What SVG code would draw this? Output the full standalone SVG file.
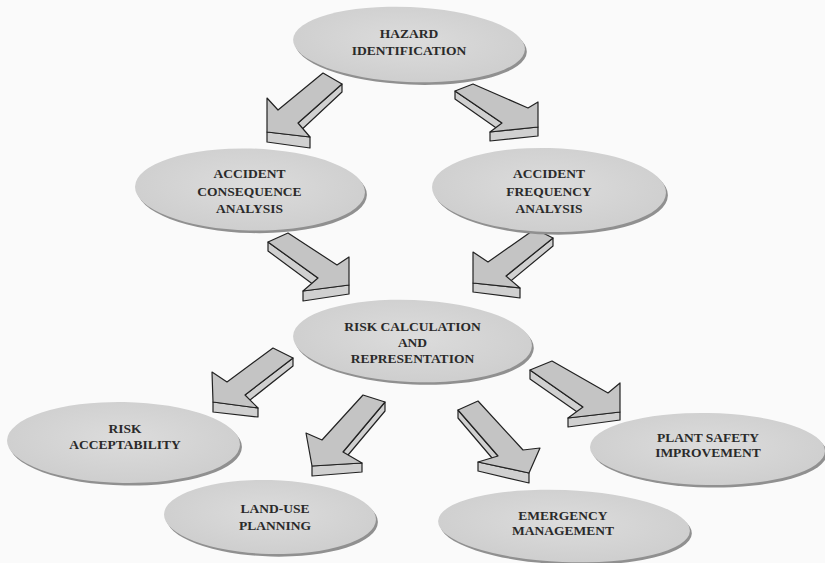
<svg xmlns="http://www.w3.org/2000/svg" width="825" height="563" viewBox="0 0 825 563">
<defs>
<radialGradient id="eg" cx="50%" cy="45%" r="60%">
<stop offset="0" stop-color="#dcdcdc"/>
<stop offset="1" stop-color="#cdcdcd"/>
</radialGradient>
</defs>
<style>
.sh{fill:#909090}
.el{fill:url(#eg)}
.lbl{font-family:"Liberation Serif","Times New Roman",serif;font-weight:bold;font-size:13.5px;fill:#2a2a2a;text-anchor:middle}
.top{fill:#c4c4c4;stroke:#222;stroke-width:1.2;stroke-linejoin:round}
.side{fill:#d0d0d0;stroke:#222;stroke-width:1.2;stroke-linejoin:round}
</style>
<rect width="825" height="563" fill="#fafafa"/>

<g id="connectors">
<g id="a1"><polygon class="side" points="342,84 298,123 298,133 342,92"/><polygon class="side" points="310,137 267,132 267,142 310,148"/><polygon class="top" points="323,73 342,84 298,123 310,137 267,132 267,98 278,110"/></g>
<g id="a2"><polygon class="side" points="455,91 502,123 502,132 455,99"/><polygon class="side" points="490,132 538,127 538,136 490,141"/><polygon class="top" points="473,84 528,108 538,102 538,127 490,132 502,123 455,91"/></g>
<g id="a3"><polygon class="side" points="268,242 318,278 318,288 268,251"/><polygon class="side" points="303,291 349,285 349,294 303,301"/><polygon class="top" points="288,233 337,265 349,257 349,285 303,291 318,278 268,242"/></g>
<g id="a4"><polygon class="side" points="553,238 506,276 506,285 553,246"/><polygon class="side" points="520,288 473,283 473,292 520,298"/><polygon class="top" points="535,229 553,238 506,276 520,288 473,283 473,252 488,262"/></g>
<g id="a5"><polygon class="side" points="293,358 245,395 245,404 293,366"/><polygon class="side" points="258,408 213,402 213,412 258,417"/><polygon class="top" points="273,348 293,358 245,395 258,408 213,402 212,372 227,382"/></g>
<g id="a6"><polygon class="side" points="385,402 343,452 343,461 385,411"/><polygon class="side" points="362,463 312,466 312,476 362,472"/><polygon class="top" points="363,395 385,402 343,452 362,463 312,466 306,433 322,440"/></g>
<g id="a7"><polygon class="side" points="458,410 498,456 498,465 458,418"/><polygon class="side" points="478,462 529,473 529,483 478,471"/><polygon class="top" points="478,401 523,450 540,448 529,473 478,462 498,456 458,410"/></g>
<g id="a8"><polygon class="side" points="530,370 583,407 583,416 530,379"/><polygon class="side" points="568,418 620,412 620,420 568,427"/><polygon class="top" points="552,361 608,393 620,383 620,412 568,418 583,407 530,370"/></g>
</g>

<g id="hazard">
<ellipse class="sh" cx="411" cy="47" rx="116" ry="37.5" transform="rotate(2.5 409 44.5)"/>
<ellipse class="el" cx="409" cy="44.5" rx="116" ry="37.5" transform="rotate(2.5 409 44.5)"/>
<text class="lbl" x="409" y="38">HAZARD</text><text class="lbl" x="409" y="55">IDENTIFICATION</text>
</g>

<g id="consequence">
<ellipse class="sh" cx="252" cy="192" rx="115" ry="41" transform="rotate(1.5 250 189.5)"/>
<ellipse class="el" cx="250" cy="189.5" rx="115" ry="41" transform="rotate(1.5 250 189.5)"/>
<text class="lbl" x="249.5" y="178">ACCIDENT</text><text class="lbl" x="249.5" y="196">CONSEQUENCE</text><text class="lbl" x="249.5" y="212.5">ANALYSIS</text>
</g>

<g id="frequency">
<ellipse class="sh" cx="551" cy="192.5" rx="117" ry="42" transform="rotate(1.5 549 190)"/>
<ellipse class="el" cx="549" cy="190" rx="117" ry="42" transform="rotate(1.5 549 190)"/>
<text class="lbl" x="549" y="178">ACCIDENT</text><text class="lbl" x="549" y="196">FREQUENCY</text><text class="lbl" x="549" y="212.5">ANALYSIS</text>
</g>

<g id="risk">
<ellipse class="sh" cx="414.5" cy="343.5" rx="119.5" ry="41" transform="rotate(2.4 412.5 341)"/>
<ellipse class="el" cx="412.5" cy="341" rx="119.5" ry="41" transform="rotate(2.4 412.5 341)"/>
<text class="lbl" x="412.5" y="331">RISK CALCULATION</text><text class="lbl" x="412.5" y="347">AND</text><text class="lbl" x="412.5" y="363">REPRESENTATION</text>
</g>

<g id="acceptability">
<ellipse class="sh" cx="125.5" cy="445" rx="116.5" ry="40.5" transform="rotate(1 123.5 442.5)"/>
<ellipse class="el" cx="123.5" cy="442.5" rx="116.5" ry="40.5" transform="rotate(1 123.5 442.5)"/>
<text class="lbl" x="125" y="433">RISK</text><text class="lbl" x="125" y="449">ACCEPTABILITY</text>
</g>

<g id="landuse">
<ellipse class="sh" cx="272" cy="519.5" rx="106" ry="37" transform="rotate(1.5 270 517)"/>
<ellipse class="el" cx="270" cy="517" rx="106" ry="37" transform="rotate(1.5 270 517)"/>
<text class="lbl" x="275" y="513">LAND-USE</text><text class="lbl" x="275" y="530">PLANNING</text>
</g>

<g id="emergency">
<ellipse class="sh" cx="566" cy="528.5" rx="126" ry="36" transform="rotate(2.3 564 526)"/>
<ellipse class="el" cx="564" cy="526" rx="126" ry="36" transform="rotate(2.3 564 526)"/>
<text class="lbl" x="563" y="520">EMERGENCY</text><text class="lbl" x="563" y="535">MANAGEMENT</text>
</g>

<g id="plant">
<ellipse class="sh" cx="709.5" cy="451.5" rx="117.5" ry="36" transform="rotate(1 707.5 449)"/>
<ellipse class="el" cx="707.5" cy="449" rx="117.5" ry="36" transform="rotate(1 707.5 449)"/>
<text class="lbl" x="708" y="442">PLANT SAFETY</text><text class="lbl" x="708" y="457">IMPROVEMENT</text>
</g>
</svg>
